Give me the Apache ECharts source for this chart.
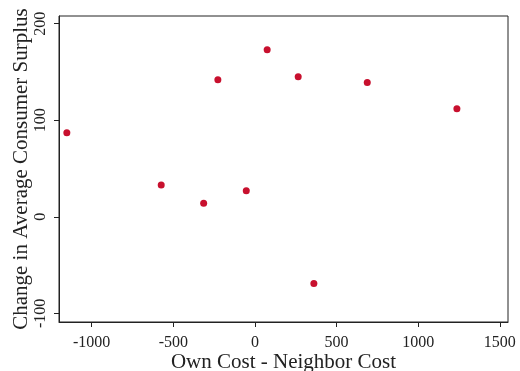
<!DOCTYPE html>
<html>
<head>
<meta charset="utf-8">
<script src="https://cdn.jsdelivr.net/npm/echarts@6/dist/echarts.min.js"></script>
<style>
  html, body { margin: 0; padding: 0; background: #fff; }
  #chart { width: 520px; height: 371px; }
</style>
</head>
<body>
<div id="chart"></div>
<script>
// cost difference vs change in consumer surplus
const costDiff = [-1152, -574, -314, -227, -53, 75, 265, 361, 688, 1237]
const surplusChange = [87, 33, 14, 142, 27, 173, 145, -69, 139, 112]
const xTicks = [-1000, -500, 0, 500, 1000, 1500]
const yTicks = [-100, 0, 100, 200]

const points = costDiff.map((x, i) => [x, surplusChange[i]])

const font = 'Liberation Serif'
const ink = '#222'

const chart = echarts.init(document.getElementById('chart'))
chart.setOption({
  animation: false,
  grid: {
    left: 59,
    right: 12,
    top: 16,
    bottom: 49,
    outerBoundsMode: 'none',
    containLabel: false,
    show: true,
    borderColor: ink,
    borderWidth: 1
  },
  xAxis: {
    type: 'value',
    min: -1200,
    max: 1550,
    name: 'Own Cost - Neighbor Cost',
    nameLocation: 'middle',
    nameGap: 30,
    nameMoveOverlap: false,
    nameTextStyle: { fontFamily: font, fontSize: 21, color: ink },
    axisLine: { onZero: false, lineStyle: { color: ink } },
    axisTick: { length: 5, lineStyle: { color: ink }, customValues: xTicks },
    axisLabel: {
      fontFamily: font, fontSize: 16, color: ink, margin: 13,
      customValues: xTicks, formatter: v => String(v)
    },
    splitLine: { show: false }
  },
  yAxis: {
    type: 'value',
    min: -109,
    max: 208,
    name: 'Change in Average Consumer Surplus',
    nameLocation: 'middle',
    nameRotate: 90,
    nameGap: 27,
    nameMoveOverlap: false,
    nameTextStyle: { fontFamily: font, fontSize: 21, color: ink },
    axisLine: { onZero: false, lineStyle: { color: ink } },
    axisTick: { length: 5, lineStyle: { color: ink }, customValues: yTicks },
    axisLabel: {
      fontFamily: font, fontSize: 16, color: ink, rotate: 90, margin: 10,
      customValues: yTicks, formatter: v => String(v)
    },
    splitLine: { show: false }
  },
  series: [{
    type: 'scatter',
    data: points,
    symbolSize: 7,
    itemStyle: { color: '#c8102e', opacity: 1 }
  }]
})
</script>
</body>
</html>
